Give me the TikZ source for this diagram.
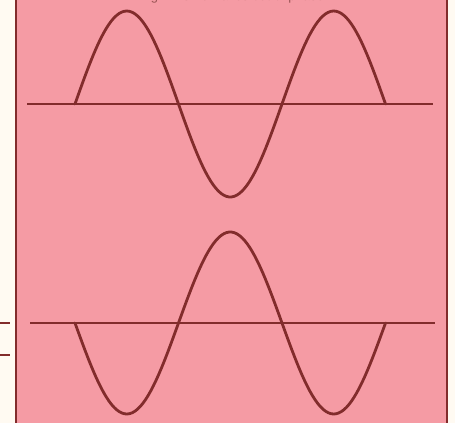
\documentclass[tikz,border=0pt]{standalone}
\usepackage{fontspec}
\setmainfont{Liberation Sans}
\definecolor{panel}{RGB}{245,155,164}
\definecolor{paper}{RGB}{255,250,242}
\definecolor{ink}{RGB}{130,44,44}
\tikzset{
  wave/.style={ink, line width=2.8, line cap=round},
  axis/.style={ink, line width=2.6},
  frame/.style={ink, line width=1.3}
}
\begin{document}
\begin{tikzpicture}[x=1pt,y=-1pt]
		\useasboundingbox (0,0) rectangle (455,423);
		\fill[paper] (0,0) rectangle (455,423);
		\fill[panel] (16,0) rectangle (447,423);
		% caption, cut off at the top edge
		\begin{scope}
			\clip (16,0) rectangle (447,423);
			\node[anchor=base, font=\fontsize{13}{13}\selectfont, text=ink!80] (cap) at (232,1) {Fig. 4. Sine waves out of phase};
		\end{scope}
		\draw[frame] (16,0) -- (16,423);
		\draw[frame] (447,0) -- (447,423);
		\draw[frame] (0,323) -- (10,323);
		\draw[frame] (0,355) -- (10,355);
		% upper pair
		\coordinate (a1) at (27,104);
		\coordinate (a2) at (433,104);
		\draw[axis] (a1) -- (a2);
		\draw[wave] plot[domain=75:385.5, samples=120] (\x, {104 - 93*sin((\x-75)/207*360)});
		% lower pair
		\coordinate (b1) at (30,323);
		\coordinate (b2) at (435,323);
		\draw[axis] (b1) -- (b2);
		\draw[wave] plot[domain=75:385.5, samples=120] (\x, {323 + 91*sin((\x-75)/207*360)});
	\end{tikzpicture}
\end{document}
